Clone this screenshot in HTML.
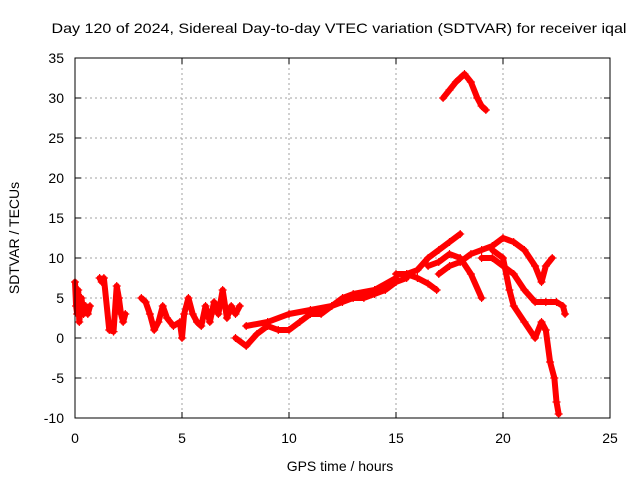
<!DOCTYPE html>
<html><head><meta charset="utf-8"><style>
body{margin:0;background:#fff}
svg{display:block;font-family:"Liberation Sans",sans-serif}
</style></head><body>
<svg id="chart" width="640" height="480" viewBox="0 0 640 480">
<text x="339" y="33" font-size="14" text-anchor="middle" textLength="575" lengthAdjust="spacingAndGlyphs">Day 120 of 2024, Sidereal Day-to-day VTEC variation (SDTVAR) for receiver iqal</text>
<text x="340" y="471" font-size="14" text-anchor="middle">GPS time / hours</text>
<text transform="translate(19,238) rotate(-90)" font-size="14" text-anchor="middle">SDTVAR / TECUs</text>
<g id="grid"></g><g id="ticks"></g><g id="marks"></g>
<rect x="75" y="58" width="535" height="360" fill="none" stroke="#000" stroke-width="1"/>
</svg>
<script>
const xTicks=[0,5,10,15,20,25];
const yTicks=[-10,-5,0,5,10,15,20,25,30,35];
const s1t=[0,0.05,0.1,0.15,0.2,0.3,0.4,0.5,0.6,0.7];
const s1v=[7,4,3,6,2,5,3,4,3,4];
const s2t=[1.15,1.25,1.35,1.6,1.8,1.95,2.05,2.15,2.25,2.35];
const s2v=[7.5,7,7.5,1,0.8,6.5,5,3,2,3];
const s3t=[3.1,3.3,3.5,3.7,3.9,4.1,4.3,4.6,4.9,5.0,5.1,5.3,5.5,5.7,5.9,6.1,6.3,6.5,6.7,6.9,7.1,7.3,7.5,7.7];
const s3v=[5,4.5,3,1,2,4,2.5,1.5,2,0,3,5,3,2,1.5,4,2,4.5,3,6,2.5,4,3,4];
const s4t=[7.5,8,8.5,9,9.5,10,10.5,11,11.5,12,12.5,13,13.5,14,14.5,15,15.5];
const s4v=[0,-1,0.5,1.5,1,1,2,3,3,4,4.5,5,5,5.5,6,7,7.5];
const s5t=[8,9,10,11,12,12.5,13,14,15];
const s5v=[1.5,2,3,3.5,4,5,5.5,6,7.5];
const s6t=[15,15.5,16,16.5,17,17.5,18];
const s6v=[8,8,8.5,10,11,12,13];
const s7t=[15.5,16,16.5,16.9];
const s7v=[8,7.5,6.8,6];
const s8t=[16.5,17,17.5,18,18.5,19];
const s8v=[9,9.5,10.5,10,8,5];
const s9t=[17,17.5,18,18.5,19,19.5,20,20.5,21,21.5,21.8,22,22.3];
const s9v=[8,9,9.5,10.5,11,11.5,12.5,12,11,9,7,9,10];
const s10t=[19,19.5,20,20.5,21,21.5,22,22.5,22.8,22.9];
const s10v=[10,10,9,8,6,4.5,4.5,4.5,4,3];
const s11t=[19.5,20,20.3,20.5,21,21.5,21.8,22,22.2,22.4,22.5,22.6];
const s11v=[11,10,6,4,2,0,2,1,-3,-5,-8,-9.5];
const s12t=[17.2,17.5,17.8,18,18.2,18.5,18.8,19,19.2];
const s12v=[30,31,32,32.5,33,32,30,29,28.5];
const seriesT=[s1t,s2t,s3t,s4t,s5t,s6t,s7t,s8t,s9t,s10t,s11t,s12t];
const seriesV=[s1v,s2v,s3v,s4v,s5v,s6v,s7v,s8v,s9v,s10v,s11v,s12v];
const X=t=>75+t*535/25, Y=v=>418-(v+10)*8;
const NS="http://www.w3.org/2000/svg";
function mk(tag,attrs,parent){const e=document.createElementNS(NS,tag);for(const k in attrs)e.setAttribute(k,attrs[k]);parent.appendChild(e);return e;}
const grid=document.getElementById('grid'),ticks=document.getElementById('ticks'),marks=document.getElementById('marks');
xTicks.forEach(t=>{
 if(t>0&&t<25){const g=mk('line',{x1:X(t),x2:X(t),y1:58,y2:418,stroke:'#a0a0a0','stroke-dasharray':'2,3'},grid);
 
 }
 mk('line',{x1:X(t),x2:X(t),y1:418,y2:412,stroke:'#000'},ticks);
 mk('line',{x1:X(t),x2:X(t),y1:58,y2:64,stroke:'#000'},ticks);
 const l=mk('text',{x:X(t),y:443,'font-size':14,'text-anchor':'middle'},ticks);l.textContent=t;
 
 
});
yTicks.forEach(v=>{
 if(v>-10&&v<35){const g=mk('line',{x1:75,x2:610,y1:Y(v),y2:Y(v),stroke:'#a0a0a0','stroke-dasharray':'2,3'},grid);
 
 }
 mk('line',{x1:75,x2:81,y1:Y(v),y2:Y(v),stroke:'#000'},ticks);
 mk('line',{x1:604,x2:610,y1:Y(v),y2:Y(v),stroke:'#000'},ticks);
 const l=mk('text',{x:64,y:Y(v)+5,'font-size':14,'text-anchor':'end'},ticks);l.textContent=v;
 
 
});
seriesT.forEach((ts,i)=>{
 const vs=seriesV[i];
 const pts=ts.map((t,j)=>X(t)+','+Y(vs[j])).join(' ');
 const pl=mk('polyline',{points:pts,fill:'none',stroke:'#ff0000','stroke-width':6,'stroke-linejoin':'round','stroke-linecap':'round'},marks);
 
 
 ts.forEach((t,j)=>{
  const x=X(t),y=Y(vs[j]);
  const p=mk('path',{d:`M${x-4},${y}H${x+4}M${x},${y-4}V${y+4}`,stroke:'#ff0000','stroke-width':1.2},marks);
  
  
 });
});
</script>
</body></html>
